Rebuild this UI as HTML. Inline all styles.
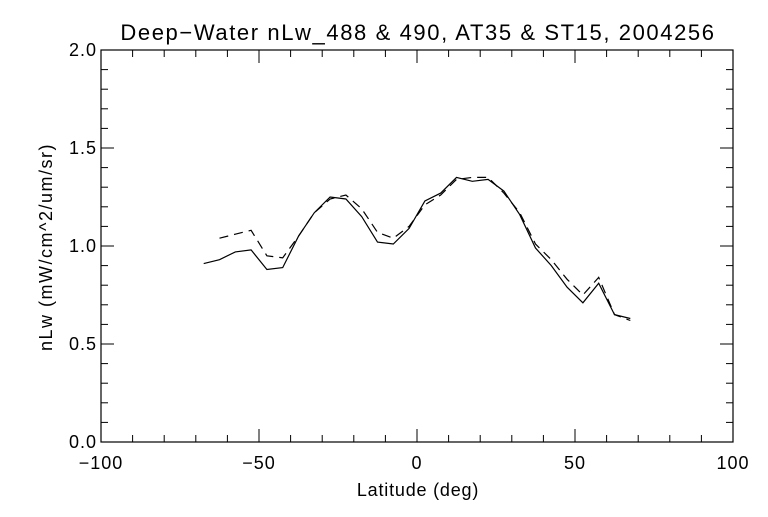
<!DOCTYPE html>
<html><head><meta charset="utf-8"><style>
body{margin:0;background:#fff}
svg text{font-family:"Liberation Sans",sans-serif;fill:#000}
</style></head><body>
<svg id="chart" width="768" height="512" xmlns="http://www.w3.org/2000/svg">
<rect width="768" height="512" fill="#fff"/>
<text x="418" y="40" font-size="22" text-anchor="middle" letter-spacing="1.6">Deep−Water nLw_488 &amp; 490, AT35 &amp; ST15, 2004256</text>
<text x="418" y="496" font-size="18" text-anchor="middle" letter-spacing="0.8">Latitude (deg)</text>
<text x="0" y="0" font-size="18" text-anchor="middle" letter-spacing="1.5" transform="translate(52,247) rotate(-90)">nLw (mW/cm^2/um/sr)</text>
<g id="axes"></g>
<g id="series"></g>
</svg>
<script>
const lats=[-67.5,-62.5,-57.5,-52.5,-47.5,-42.5,-37.5,-32.5,-27.5,-22.5,-17.5,-12.5,-7.5,-2.5,2.5,7.5,12.5,17.5,22.5,27.5,32.5,37.5,42.5,47.5,52.5,57.5,62.5,67.5];
const solid=[0.91,0.93,0.97,0.98,0.88,0.89,1.05,1.17,1.25,1.24,1.15,1.02,1.01,1.09,1.23,1.27,1.35,1.33,1.34,1.28,1.16,0.99,0.90,0.79,0.71,0.81,0.65,0.63];
const dashed=[null,1.04,1.06,1.08,0.95,0.94,1.05,1.17,1.24,1.26,1.19,1.07,1.04,1.10,1.21,1.26,1.34,1.35,1.35,1.27,1.17,1.01,0.93,0.83,0.75,0.84,0.65,0.62];
const xTicks=[-100,-50,0,50,100];
const yTicks=[0.0,0.5,1.0,1.5,2.0];
const L=101,R=733,T=50,B=442;
const X=v=>L+(v+100)/200*(R-L);
const Y=v=>B-v/2*(B-T);
const NS="http://www.w3.org/2000/svg";
const ax=document.getElementById('axes');
function mk(t,a,p){const e=document.createElementNS(NS,t);for(const k in a)e.setAttribute(k,a[k]);p.appendChild(e);return e;}
const fr=mk('rect',{x:L,y:T,width:R-L,height:B-T,fill:'none',stroke:'#000','stroke-width':1.2},ax);


for(let v=-100;v<=100;v+=10){const maj=v%50===0;const len=maj?13:7;
 mk('line',{x1:X(v),x2:X(v),y1:B,y2:B-len,stroke:'#000'},ax);
 mk('line',{x1:X(v),x2:X(v),y1:T,y2:T+len,stroke:'#000'},ax);}
for(let i=0;i<=20;i++){const v=i/10;const maj=i%5===0;const len=maj?13:7;
 mk('line',{x1:L,x2:L+len,y1:Y(v),y2:Y(v),stroke:'#000'},ax);
 mk('line',{x1:R,x2:R-len,y1:Y(v),y2:Y(v),stroke:'#000'},ax);}
xTicks.forEach(v=>{const t=mk('text',{x:X(v),y:B+27,'font-size':18,'text-anchor':'middle','letter-spacing':1},ax);t.textContent=(v<0?'−'+(-v):v);
 
 });
yTicks.forEach(v=>{const t=mk('text',{x:L-4,y:Y(v)+6,'font-size':18,'text-anchor':'end','letter-spacing':1},ax);t.textContent=v.toFixed(1);
 
 });
const sg=document.getElementById('series');
function path(vals){let d='';let pen=false;vals.forEach((v,i)=>{if(v==null){pen=false;return;}d+=(pen?'L':'M')+X(lats[i]).toFixed(1)+' '+Y(v).toFixed(1)+' ';pen=true;});return d;}
const p1=mk('path',{d:path(solid),fill:'none',stroke:'#000','stroke-width':1.2},sg);


const p2=mk('path',{d:path(dashed),fill:'none',stroke:'#000','stroke-width':1.2,'stroke-dasharray':'9 6'},sg);


</script>
</body></html>
